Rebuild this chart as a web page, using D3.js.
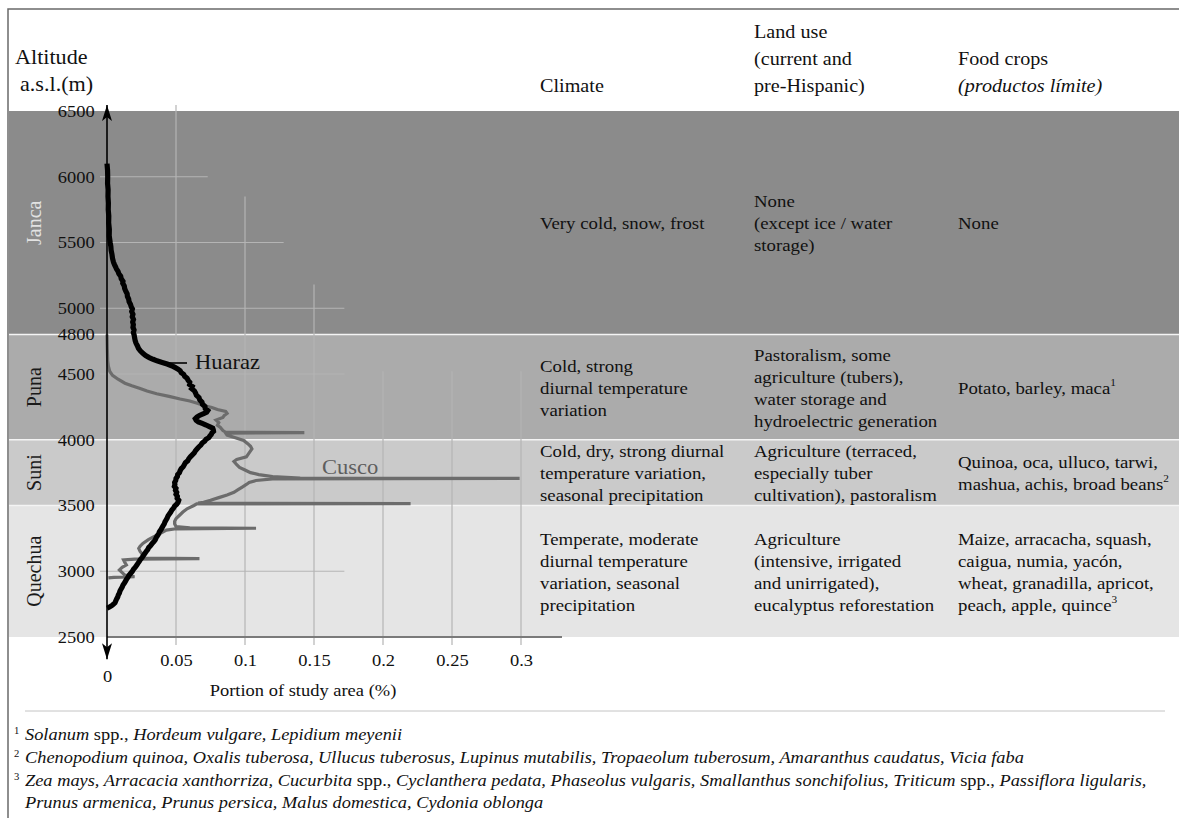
<!DOCTYPE html>
<meta charset="utf-8">
<style>
  body { margin: 0; background: #fff; }
  svg text { font-family: "Liberation Serif", "DejaVu Serif", serif !important; }
</style>
<div id="container"></div>
<script src="https://cdn.jsdelivr.net/npm/d3@7"></script>
<script>

// altitude zones
const zones = ["Janca", "Puna", "Suni", "Quechua"];
const zoneTop = [6500, 4800, 4000, 3500];
const zoneBottom = [4800, 4000, 3500, 2500];
const zoneFill = ["#8b8b8b", "#ababab", "#cacaca", "#e5e5e5"];

const altTicks = [2500, 3000, 3500, 4000, 4500, 4800, 5000, 5500, 6000, 6500];
const shareTicks = [0, 0.05, 0.1, 0.15, 0.2, 0.25, 0.3];

const climate = [
  ["Very cold, snow, frost"],
  ["Cold, strong", "diurnal temperature", "variation"],
  ["Cold, dry, strong diurnal", "temperature variation,", "seasonal precipitation"],
  ["Temperate, moderate", "diurnal temperature", "variation, seasonal", "precipitation"]
];
const landUse = [
  ["None", "(except ice / water", "storage)"],
  ["Pastoralism, some", "agriculture (tubers),", "water storage and", "hydroelectric generation"],
  ["Agriculture (terraced,", "especially tuber", "cultivation), pastoralism"],
  ["Agriculture", "(intensive, irrigated", "and unirrigated),", "eucalyptus reforestation"]
];
const foodCrops = [
  ["None"],
  ["Potato, barley, maca|1"],
  ["Quinoa, oca, ulluco, tarwi,", "mashua, achis, broad beans|2"],
  ["Maize, arracacha, squash,", "caigua, numia, yacón,", "wheat, granadilla, apricot,", "peach, apple, quince|3"]
];

// [altitude m, portion of study area]
const huaraz = [
  [6100,0],[6050,0.0004],[6000,0.0005],[5950,0.0004],[5900,0.0008],[5850,0.0007],[5800,0.001],
  [5750,0.0009],[5700,0.0013],[5650,0.0012],[5600,0.0017],[5550,0.0016],[5500,0.0023],[5470,0.0028],
  [5440,0.003],[5410,0.0036],[5380,0.004],[5350,0.0047],[5330,0.0055],[5315,0.0062],
  [5300,0.0068],[5280,0.008],[5262,0.0086],[5245,0.0099],[5225,0.0103],[5205,0.0116],[5190,0.0114],
  [5170,0.0125],[5150,0.0128],[5130,0.0136],[5110,0.0146],[5090,0.0148],[5070,0.0157],[5050,0.016],
  [5030,0.017],[5010,0.0176],[4995,0.0184],[4975,0.0179],[4955,0.0188],[4935,0.0183],[4915,0.0192],
  [4895,0.0186],[4875,0.0191],[4855,0.0188],[4835,0.0196],[4815,0.0191],[4795,0.0197],[4775,0.02],
  [4755,0.0204],[4735,0.021],[4715,0.022],[4695,0.0228],[4675,0.0243],[4655,0.0262],[4640,0.028],
  [4625,0.0306],[4612,0.0334],[4600,0.0362],[4588,0.04],[4576,0.0436],[4563,0.0468],[4550,0.0492],
  [4537,0.0515],[4525,0.053],[4510,0.0538],[4497,0.0556],[4482,0.0563],[4468,0.058],[4452,0.0588],
  [4437,0.06],[4420,0.0598],[4405,0.0618],[4390,0.0612],[4372,0.0633],[4355,0.0642],[4338,0.0648],
  [4320,0.0667],[4303,0.0672],[4287,0.0688],[4270,0.0692],[4253,0.071],[4237,0.0712],[4222,0.073],
  [4210,0.0722],[4198,0.07],[4185,0.067],[4172,0.0652],[4160,0.064],[4148,0.0646],[4136,0.0662],
  [4124,0.069],[4112,0.0718],[4100,0.0742],[4088,0.0766],[4076,0.077],[4064,0.0772],[4052,0.076],
  [4040,0.0755],[4028,0.0745],[4016,0.0738],[4004,0.0718],[3990,0.0708],[3975,0.069],[3960,0.068],
  [3945,0.0665],[3930,0.0652],[3915,0.064],[3900,0.0632],[3885,0.0618],[3870,0.0604],[3855,0.0592],
  [3840,0.0585],[3825,0.0568],[3810,0.056],[3795,0.0552],[3780,0.0538],[3765,0.053],[3750,0.0525],
  [3735,0.0512],[3720,0.051],[3705,0.05],[3690,0.0498],[3675,0.049],[3660,0.0492],[3645,0.0488],
  [3630,0.05],[3615,0.0496],[3600,0.0505],[3585,0.05],[3570,0.051],[3555,0.0508],[3540,0.052],
  [3525,0.0515],[3510,0.0505],[3495,0.049],[3480,0.0482],[3465,0.047],[3450,0.0462],[3435,0.0452],
  [3420,0.0442],[3405,0.0436],[3390,0.0428],[3375,0.042],[3360,0.0415],[3345,0.0406],[3330,0.0398],
  [3315,0.039],[3300,0.038],[3285,0.0374],[3270,0.0365],[3255,0.0356],[3240,0.035],[3225,0.034],
  [3210,0.0326],[3195,0.0316],[3180,0.0302],[3165,0.0295],[3150,0.0284],[3135,0.0274],[3120,0.0264],
  [3105,0.0255],[3090,0.0242],[3075,0.0234],[3060,0.0224],[3045,0.0215],[3030,0.0204],[3015,0.0192],
  [3000,0.0184],[2985,0.0172],[2970,0.016],[2955,0.0152],[2940,0.0142],[2925,0.0134],[2910,0.0126],
  [2895,0.0116],[2880,0.011],[2865,0.0102],[2850,0.0094],[2835,0.009],[2820,0.0082],[2805,0.0078],
  [2790,0.007],[2775,0.0064],[2760,0.0058],[2748,0.0046],[2738,0.0034],[2728,0.0018],[2722,0.0005],
  [2720,0]
];

const cusco = [
  [4800,0.000],[4700,0.0002],[4600,0.0005],[4560,0.001],[4520,0.002],[4490,0.004],[4460,0.008],
  [4430,0.013],[4410,0.018],[4390,0.024],[4370,0.029],[4350,0.036],[4330,0.045],[4310,0.053],
  [4295,0.060],[4275,0.066],[4260,0.070],[4245,0.076],[4230,0.080],[4215,0.086],[4200,0.087],
  [4185,0.085],[4170,0.084],[4150,0.079],[4130,0.081],[4110,0.080],[4095,0.082],[4070,0.084],
  [4057,0.086],[4054,0.143],[4050,0.086],[4035,0.087],[4015,0.093],[3995,0.099],[3970,0.102],
  [3950,0.104],[3930,0.105],[3900,0.103],[3870,0.101],[3850,0.094],[3835,0.092],[3810,0.094],
  [3790,0.096],[3770,0.100],[3750,0.104],[3735,0.110],[3720,0.120],[3709,0.140],[3706,0.299],
  [3702,0.120],[3690,0.108],[3675,0.103],[3660,0.101],[3640,0.098],[3620,0.095],[3600,0.092],
  [3580,0.087],[3560,0.081],[3540,0.075],[3525,0.070],[3518,0.066],[3515,0.220],[3512,0.065],
  [3500,0.063],[3475,0.058],[3450,0.055],[3420,0.052],[3400,0.050],[3380,0.049],[3360,0.049],
  [3340,0.050],[3330,0.060],[3327,0.108],[3323,0.050],[3313,0.043],[3290,0.039],[3263,0.034],
  [3240,0.030],[3212,0.026],[3190,0.024],[3174,0.023],[3150,0.024],[3124,0.026],[3100,0.027],
  [3096,0.067],[3092,0.020],[3086,0.012],[3065,0.013],[3048,0.014],[3030,0.011],[3010,0.009],
  [2990,0.011],[2970,0.013],[2958,0.020],[2954,0.005],[2950,0.001]
];

// partial grid lines: horizontal [altitude, end value], vertical [value, top altitude]
const hGrid = [[6000, 0.073], [5500, 0.128], [5000, 0.172], [4500, 0.172], [3000, 0.172]];
const vGrid = [[0.05, 6545], [0.1, 5850], [0.15, 5180], [0.2, 4520], [0.25, 4520], [0.3, 4520]];

const footnotes = [
  [["1", "sup"], ["Solanum", "i"], [" spp., ", "n"], ["Hordeum vulgare, Lepidium meyenii", "i"]],
  [["2", "sup"], ["Chenopodium quinoa, Oxalis tuberosa, Ullucus tuberosus, Lupinus mutabilis, Tropaeolum tuberosum, Amaranthus caudatus, Vicia faba", "i"]],
  [["3", "sup"], ["Zea mays, Arracacia xanthorriza, ", "i"], ["Cucurbita", "i"], [" spp., ", "n"], ["Cyclanthera pedata, Phaseolus vulgaris, Smallanthus sonchifolius, ", "i"], ["Triticum", "i"], [" spp., ", "n"], ["Passiflora ligularis,", "i"]],
  [["Prunus armenica, Prunus persica, Malus domestica, Cydonia oblonga", "i"]]
];

const width = 1179, height = 818;
const SX = 1.12; // the scanned lettering is a bit wide

const x = d3.scaleLinear().domain([0, 0.3]).range([107, 521]);
const y = d3.scaleLinear().domain([2500, 6500]).range([637, 111]);

const svg = d3.create("svg").attr("width", width).attr("height", height);

function label(g, px, py, str, size, opts = {}) {
  const t = g.append("text")
    .attr("transform", `translate(${px},${py}) scale(${opts.sx || SX},1)`)
    .attr("font-size", size)
    .attr("dominant-baseline", "central")
    .attr("text-anchor", opts.anchor || "start")
    .attr("fill", opts.fill || "#111");
  if (opts.italic) t.attr("font-style", "italic");
  const parts = str.split("|");
  t.append("tspan").text(parts[0]);
  if (parts[1]) t.append("tspan").attr("font-size", size * 0.6).attr("dy", -6).text(parts[1]);
  return t;
}

// bands
svg.selectAll("rect.zone").data(zones).enter().append("rect")
  .attr("class", "zone")
  .attr("x", 9).attr("width", width - 9)
  .attr("y", (d, i) => y(zoneTop[i]))
  .attr("height", (d, i) => y(zoneBottom[i]) - y(zoneTop[i]))
  .attr("fill", (d, i) => zoneFill[i]);

svg.selectAll("line.zsep").data(zoneBottom.slice(0, 3)).enter().append("line")
  .attr("x1", 9).attr("x2", width)
  .attr("y1", d => y(d)).attr("y2", d => y(d))
  .attr("stroke", "#f4f4f4").attr("stroke-width", 1.6);

// grid
svg.selectAll("line.hg").data(hGrid).enter().append("line")
  .attr("x1", 100).attr("x2", d => x(d[1]))
  .attr("y1", d => y(d[0])).attr("y2", d => y(d[0]))
  .attr("stroke", "#b4b4b4").attr("stroke-width", 1.2);
svg.selectAll("line.vg").data(vGrid).enter().append("line")
  .attr("x1", d => x(d[0])).attr("x2", d => x(d[0]))
  .attr("y1", d => y(d[1])).attr("y2", y(2500) + 8)
  .attr("stroke", "#b4b4b4").attr("stroke-width", 1.2);

// x axis base line
svg.append("line")
  .attr("x1", x(0)).attr("x2", 562)
  .attr("y1", y(2500)).attr("y2", y(2500))
  .attr("stroke", "#7a7a7a").attr("stroke-width", 2);

// curves
const line = d3.line().x(d => x(d[1])).y(d => y(d[0]));
svg.append("path").datum(cusco).attr("d", line)
  .attr("fill", "none").attr("stroke", "#6c6c6c").attr("stroke-width", 3.2)
  .attr("stroke-linejoin", "miter");
svg.append("path").datum(huaraz).attr("d", line)
  .attr("fill", "none").attr("stroke", "#000").attr("stroke-width", 5.2)
  .attr("stroke-linejoin", "miter");

// labels for the curves
svg.append("line").attr("x1", 163).attr("x2", 187).attr("y1", 363).attr("y2", 363)
  .attr("stroke", "#000").attr("stroke-width", 1.6);
label(svg, 195, 362, "Huaraz", 20.5, { sx: 1.1 });
label(svg, 322, 467, "Cusco", 20.5, { sx: 1.1, fill: "#5e5e5e" });

// y axis with arrows
const defs = svg.append("defs");
defs.append("marker").attr("id", "arr").attr("viewBox", "0 0 16 10")
  .attr("refX", 16).attr("refY", 5).attr("markerWidth", 16).attr("markerHeight", 10)
  .attr("markerUnits", "userSpaceOnUse").attr("orient", "auto")
  .append("path").attr("d", "M0,0 L16,5 L0,10 L4,5 Z").attr("fill", "#000");
defs.append("marker").attr("id", "arrs").attr("viewBox", "0 0 16 10")
  .attr("refX", 0).attr("refY", 5).attr("markerWidth", 16).attr("markerHeight", 10)
  .attr("markerUnits", "userSpaceOnUse").attr("orient", "auto")
  .append("path").attr("d", "M0,5 L16,0 L12,5 L16,10 Z").attr("fill", "#000");

svg.append("line").attr("x1", x(0)).attr("x2", x(0))
  .attr("y1", y(2330)).attr("y2", y(6545))
  .attr("stroke", "#000").attr("stroke-width", 1.6)
  .attr("marker-end", "url(#arr)").attr("marker-start", "url(#arrs)");

const yAxis = svg.append("g").attr("transform", `translate(${x(0)},0)`)
  .call(d3.axisLeft(y).tickValues(altTicks).tickSize(0).tickPadding(11).tickFormat(d3.format("d")));
yAxis.select(".domain").remove();
yAxis.selectAll("text").attr("font-size", 16.5)
  .attr("fill", "#111").attr("transform", `scale(${SX},1)`);

const xAxis = svg.append("g").attr("transform", `translate(0,${y(2500)})`)
  .call(d3.axisBottom(x).tickValues(shareTicks).tickSize(0).tickPadding(17)
    .tickFormat(d => d === 0 ? "0" : d3.format("")(d)));
xAxis.select(".domain").remove();
xAxis.selectAll("text").attr("font-size", 16.5)
  .attr("fill", "#111").attr("transform", `scale(${SX},1)`)
  .attr("y", d => d === 0 ? 33 : 17);

label(svg, 303, 690, "Portion of study area (%)", 16.5, { anchor: "middle" });

// zone names (rotated)
zones.forEach((z, i) => {
  const cy = (y(zoneTop[i]) + y(zoneBottom[i])) / 2;
  svg.append("text")
    .attr("transform", `translate(34,${cy}) rotate(-90)`)
    .attr("text-anchor", "middle").attr("dominant-baseline", "central")
    .attr("font-size", 20).attr("fill", i === 0 ? "#e2e2e2" : "#1a1a1a")
    .text(z);
});

// header
label(svg, 15, 57, "Altitude", 20.5, { sx: 1.08 });
label(svg, 20, 84, "a.s.l.(m)", 20.5, { sx: 1.08 });
const HS = 18;
label(svg, 540, 85, "Climate", HS);
["Land use", "(current and", "pre-Hispanic)"].forEach((s, k) => label(svg, 754, 31 + k * 27, s, HS));
label(svg, 958, 58, "Food crops", HS);
label(svg, 958, 85, "(productos límite)", HS, { italic: true });

// table columns
const cols = [[540, climate], [754, landUse], [958, foodCrops]];
const LH = 22, TS = 16.8;
cols.forEach(([cx, rows]) => {
  rows.forEach((linesArr, i) => {
    const cy = (y(zoneTop[i]) + y(zoneBottom[i])) / 2 + 1;
    linesArr.forEach((s, k) => {
      label(svg, cx, cy + (k - (linesArr.length - 1) / 2) * LH, s, TS);
    });
  });
});

// frame
svg.append("path").attr("d", `M8,${height} L8,9 L${width},9`)
  .attr("fill", "none").attr("stroke", "#6a6a6a").attr("stroke-width", 1.5);

// footnotes
svg.append("line").attr("x1", 25).attr("x2", 1165).attr("y1", 711).attr("y2", 711)
  .attr("stroke", "#c4c4c4").attr("stroke-width", 1);
const fy = [734, 757, 780, 802];
footnotes.forEach((parts, i) => {
  const t = svg.append("text")
    .attr("transform", `translate(${parts[0][1] === "sup" ? 14 : 25},${fy[i]}) scale(${SX},1)`)
    .attr("font-size", 16.4).attr("dominant-baseline", "central").attr("fill", "#111");
  parts.forEach(([s, kind]) => {
    const ts = t.append("tspan").text(s);
    if (kind === "i") ts.attr("font-style", "italic");
    if (kind === "sup") ts.attr("font-size", 9.5).attr("dy", -4);
  });
  if (parts[0][1] === "sup") {
    t.select("tspan:nth-child(2)").attr("dy", 4).attr("x", (25 - 14) / SX);
  }
});

container.append(svg.node());
</script>
